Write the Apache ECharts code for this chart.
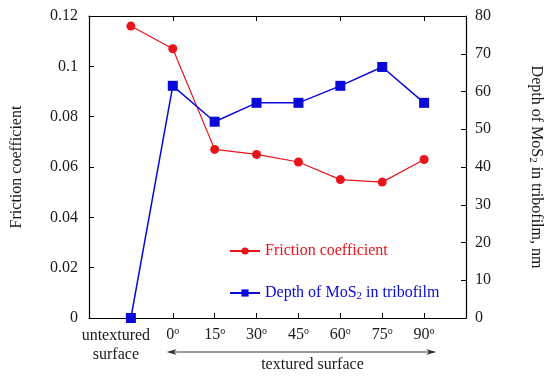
<!DOCTYPE html>
<html>
<head>
<meta charset="utf-8">
<script src="https://cdn.jsdelivr.net/npm/echarts@6/dist/echarts.min.js"></script>
<style>html,body{margin:0;padding:0;background:#fff}#c{width:550px;height:381px}</style>
</head>
<body>
<div id="c"></div>
<script>
// ---- data ----
const categories = ['untextured\nsurface', '0', '15', '30', '45', '60', '75', '90'];
const friction = [0.116, 0.107, 0.067, 0.065, 0.062, 0.055, 0.054, 0.063];
const depth = [0, 61.5, 52, 57, 57, 61.5, 66.5, 57];
const leftTicks = [0, 0.02, 0.04, 0.06, 0.08, 0.1, 0.12];
const rightTicks = [0, 10, 20, 30, 40, 50, 60, 70, 80];
const bandLabel = 'textured surface';

const FONT = '"Liberation Serif", "DejaVu Serif", serif';
const FS = 16;
const RED = '#e8141a';
const BLUE = '#0a0ad8';
const TXT = '#1a1a1a';

const axisData = [''].concat(categories).concat(['']);
const pad = arr => [null].concat(arr).concat([null]);

const chart = echarts.init(document.getElementById('c'));
const option = {
  animation: false,
  backgroundColor: '#fff',
  grid: {left: 89, right: 84, top: 16, bottom: 63, containLabel: false, outerBoundsMode: 'none'},
  legend: {
    orient: 'vertical', left: 224, top: 238, itemGap: 22, itemWidth: 30, itemHeight: 9,
    data: [
      {name: 'Friction coefficient', textStyle: {color: RED}},
      {name: 'Depth of MoS2 in tribofilm', textStyle: {color: BLUE}}
    ],
    textStyle: {
      fontFamily: FONT, fontSize: FS,
      rich: {
        a: {fontFamily: FONT, fontSize: FS, color: BLUE, lineHeight: 18},
        sub: {fontFamily: FONT, fontSize: 11, color: BLUE, verticalAlign: 'bottom', lineHeight: 8, padding: [10, 0, 0, 0]}
      }
    },
    formatter: function (n) {
      if (n.indexOf('MoS2') >= 0) {
        const p = n.split('MoS2');
        return '{a|' + p[0] + 'MoS}{sub|2}{a|' + p[1] + '}';
      }
      return n;
    }
  },
  xAxis: [{
    type: 'category', data: axisData, boundaryGap: false, position: 'bottom',
    axisLine: {onZero: false, lineStyle: {color: '#000', width: 1.2}},
    axisTick: {inside: true, length: 5, lineStyle: {color: '#000'}},
    axisLabel: {
      margin: 8, color: TXT, fontFamily: FONT, fontSize: FS, lineHeight: 19, interval: 0,
      formatter: function (v) {
        if (/^\d+$/.test(v)) return '{n|' + v + '}{sup|o}';
        return v.split('\n').map(s => '{u|' + s + '}').join('\n');
      },
      rich: {
        n: {fontFamily: FONT, fontSize: FS, color: TXT, lineHeight: 18},
        u: {fontFamily: FONT, fontSize: FS, color: TXT, lineHeight: 19, padding: [0, 30, 0, 0]},
        sup: {fontFamily: FONT, fontSize: 10, color: TXT, verticalAlign: 'top', lineHeight: 10}
      }
    },
    splitLine: {show: false}
  }, {
    type: 'category', data: axisData, boundaryGap: false, position: 'top',
    axisLine: {onZero: false, lineStyle: {color: '#000', width: 1.2}},
    axisTick: {inside: true, length: 5, lineStyle: {color: '#000'}},
    axisLabel: {show: false}, splitLine: {show: false}
  }],
  yAxis: [{
    type: 'value', min: leftTicks[0], max: leftTicks[leftTicks.length - 1], interval: 0.02, position: 'left',
    name: 'Friction coefficient', nameLocation: 'middle', nameGap: 64,
    nameTextStyle: {fontFamily: FONT, fontSize: FS, color: TXT},
    axisLine: {show: true, onZero: false, lineStyle: {color: '#000', width: 1.2}},
    axisTick: {show: true, inside: true, length: 5, lineStyle: {color: '#000'}},
    axisLabel: {margin: 11, color: TXT, fontFamily: FONT, fontSize: FS,
      formatter: v => String(+v.toFixed(2))},
    splitLine: {show: false}
  }, {
    type: 'value', min: rightTicks[0], max: rightTicks[rightTicks.length - 1], interval: 10, position: 'right',
    name: '{a|Depth of MoS}{sub|2}{a| in tribofilm, nm}', nameLocation: 'middle', nameGap: 61, nameRotate: -90,
    nameTextStyle: {fontFamily: FONT, fontSize: FS, color: TXT,
      rich: {
        a: {fontFamily: FONT, fontSize: FS, color: TXT, lineHeight: 18},
        sub: {fontFamily: FONT, fontSize: 11, color: TXT, verticalAlign: 'bottom', lineHeight: 8, padding: [10, 0, 0, 0]}
      }},
    axisLine: {show: true, onZero: false, lineStyle: {color: '#000', width: 1.2}},
    axisTick: {show: true, inside: true, length: 5, lineStyle: {color: '#000'}},
    axisLabel: {margin: 9, color: TXT, fontFamily: FONT, fontSize: FS},
    splitLine: {show: false}
  }],
  series: [{
    name: 'Friction coefficient', type: 'line', xAxisIndex: 0, yAxisIndex: 0,
    data: pad(friction),
    symbol: 'circle', symbolSize: 9, itemStyle: {color: RED},
    lineStyle: {color: RED, width: 1.2}, z: 3
  }, {
    name: 'Depth of MoS2 in tribofilm', type: 'line', xAxisIndex: 0, yAxisIndex: 1,
    data: pad(depth),
    symbol: 'rect', symbolSize: 10, itemStyle: {color: BLUE},
    lineStyle: {color: BLUE, width: 1.5}, z: 4
  }]
};
chart.setOption(option);

// annotation arrow below the textured categories (0° .. 90°)
const x0 = chart.convertToPixel({xAxisIndex: 0}, 2);
const x1 = chart.convertToPixel({xAxisIndex: 0}, 8);
const yb = chart.convertToPixel({yAxisIndex: 0}, 0);
const ax0 = x0 - 6, ax1 = x1 + 12, ay = yb + 34;
const AC = '#333';
chart.setOption({
  graphic: [
    {type: 'line', shape: {x1: ax0 + 2, y1: ay, x2: ax1 - 2, y2: ay}, style: {stroke: AC, lineWidth: 1.2}},
    {type: 'polygon', shape: {points: [[ax0, ay], [ax0 + 10, ay - 3], [ax0 + 7, ay], [ax0 + 10, ay + 3]]}, style: {fill: AC}},
    {type: 'polygon', shape: {points: [[ax1, ay], [ax1 - 10, ay - 3], [ax1 - 7, ay], [ax1 - 10, ay + 3]]}, style: {fill: AC}},
    {type: 'text', x: (ax0 + ax1) / 2 + 11, y: ay + 13,
      style: {text: bandLabel, font: FS + 'px ' + FONT, fill: TXT, align: 'center', verticalAlign: 'middle'}}
  ]
});
</script>
</body>
</html>
